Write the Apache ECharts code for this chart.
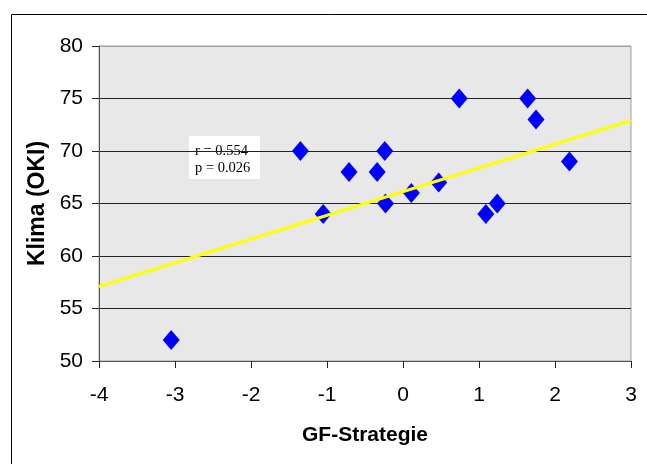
<!DOCTYPE html>
<html lang="de">
<head>
    <meta charset="UTF-8">
    <title>Klima vs GF-Strategie</title>
    <script type="text/javascript" src="https://cdn.jsdelivr.net/npm/echarts@6/dist/echarts.min.js"></script>
    <style>
        *{
            margin:0;
            padding:0;
        }
        #main {
            width:647px;
            height:464px;
            background-color:#fff;
        }
    </style>
</head>
<body>
<div id="main"></div>
<script type="text/javascript">
    // Werte
    var gfStrategie = [-3.05, -1.35, -1.05, -0.71, -0.34, -0.24, -0.23, 0.11, 0.47, 0.74, 1.09, 1.24, 1.64, 1.75, 2.19];
    var klima       = [52,    70,    64,    68,    68,    70,    65,    66,   67,   75,   64,   65,   75,   73,   69];
    // Regressionsgerade (Endpunkte)
    var trendX = [-4, 3];
    var trendY = [57.1, 72.9];
    var statsText = ['r = 0.554', 'p = 0.026'];

    var points = gfStrategie.map(function (x, i) { return [x, klima[i]]; });
    var trend = trendX.map(function (x, i) { return [x, trendY[i]]; });

    var myChart = echarts.init(document.getElementById('main'));

    var option = {
        animation: false,
        backgroundColor: '#fff',
        grid: {
            left: 99,
            right: 16,
            top: 46,
            bottom: 103,
            show: true,
            backgroundColor: '#e8e8e8',
            borderColor: '#a0a0a0',
            borderWidth: 1
        },
        xAxis: {
            type: 'value',
            min: -4,
            max: 3,
            interval: 1,
            name: 'GF-Strategie',
            nameLocation: 'middle',
            nameGap: 64,
            nameTextStyle: {
                fontFamily: 'Liberation Sans',
                fontWeight: 'bold',
                fontSize: 21,
                color: '#000'
            },
            axisLine: { show: true, onZero: false, lineStyle: { color: '#555', width: 1 } },
            axisTick: { show: true, length: 7, lineStyle: { color: '#222' } },
            axisLabel: {
                margin: 24,
                fontFamily: 'Liberation Sans',
                fontSize: 21,
                color: '#000'
            },
            splitLine: { show: false }
        },
        yAxis: {
            type: 'value',
            min: 50,
            max: 80,
            interval: 5,
            name: 'Klima (OKI)',
            nameLocation: 'middle',
            nameGap: 44,
            nameTextStyle: {
                fontFamily: 'Liberation Sans',
                fontWeight: 'bold',
                fontSize: 23,
                color: '#000'
            },
            axisLine: { show: true, onZero: false, lineStyle: { color: '#555', width: 1 } },
            axisTick: { show: true, length: 7, lineStyle: { color: '#222' } },
            axisLabel: {
                margin: 16,
                fontFamily: 'Liberation Sans',
                fontSize: 21,
                color: '#000'
            },
            splitLine: {
                show: true,
                lineStyle: {
                    color: ['#222', '#222', '#222', '#222', '#222', '#222', '#a0a0a0'],
                    width: 1
                }
            }
        },
        series: [
            {
                type: 'scatter',
                data: points,
                symbol: 'diamond',
                symbolSize: [17, 20],
                itemStyle: { color: '#0000ff', opacity: 1 },
                z: 3
            },
            {
                type: 'line',
                data: trend,
                symbol: 'none',
                lineStyle: { color: '#ffff00', width: 3 },
                z: 4
            }
        ],
        graphic: [
            {
                type: 'rect',
                left: 9,
                top: 12,
                shape: { width: 700, height: 500 },
                style: { fill: 'none', stroke: '#000', lineWidth: 1 },
                silent: true
            },
            {
                type: 'group',
                left: 189,
                top: 136,
                z: 10,
                children: [
                    {
                        type: 'rect',
                        shape: { width: 71, height: 43 },
                        style: { fill: '#fff' }
                    },
                    {
                        type: 'text',
                        left: 6,
                        top: 7,
                        style: {
                            text: statsText.join('\n'),
                            fontFamily: 'Liberation Serif',
                            fontSize: 14.5,
                            lineHeight: 17,
                            fill: '#000'
                        }
                    }
                ]
            }
        ]
    };

    myChart.setOption(option);
</script>
</body>
</html>
